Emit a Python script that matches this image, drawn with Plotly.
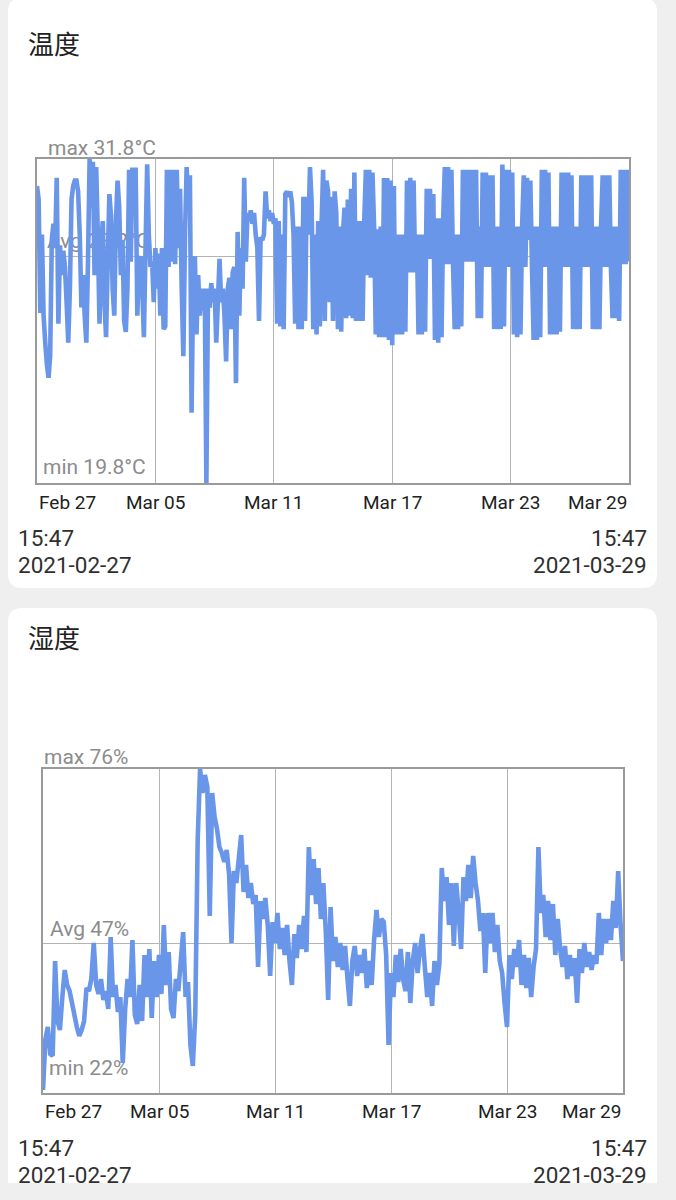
import pandas as pd
import plotly.graph_objects as go

W, H = 676, 1200

START = pd.Timestamp("2021-02-27 15:47")
END = pd.Timestamp("2021-03-29 15:47")

titles = ["温度", "湿度"]
tick_labels = ["Feb 27", "Mar 05", "Mar 11", "Mar 17", "Mar 23", "Mar 29"]
tick_step_days = 6
start_time_text = "15:47"
start_date_text = "2021-02-27"
end_time_text = "15:47"
end_date_text = "2021-03-29"

temp_stats = {"max": 31.8, "avg": 28.2, "min": 19.8}
temp_stat_text = {"max": "max 31.8°C", "avg": "Avg 28.2°C", "min": "min 19.8°C"}
hum_stats = {"max": 76, "avg": 47, "min": 22}
hum_stat_text = {"max": "max 76%", "avg": "Avg 47%", "min": "min 22%"}

# temperature readings, one every 2 hours from start
temp_step_hours = 2
temp_values = [
    30.8, 30.3, 26.1, 29.0, 26.0, 25.0, 24.2, 23.7, 24.5, 28.8,
    29.4, 28.5, 31.1, 25.7, 28.6, 27.5, 28.4, 27.8, 26.5, 25.0,
    27.0, 30.3, 30.8, 31.0, 31.0, 30.6, 29.0, 26.3, 27.5, 26.0,
    25.0, 28.0, 31.8, 30.0, 31.7, 27.5, 31.5, 29.0, 25.7, 28.5,
    29.5, 26.5, 25.2, 28.0, 30.5, 29.7, 27.0, 26.0, 29.5, 31.0,
    30.0, 27.5, 28.8, 25.8, 25.4, 27.0, 31.4, 28.0, 31.4, 31.4,
    31.4, 26.0, 28.0, 28.2, 27.0, 25.2, 28.5, 31.6, 29.0, 27.8,
    28.0, 26.5, 28.5, 27.0, 28.3, 26.0, 28.5, 25.5, 25.6, 31.4,
    27.8, 31.4, 28.0, 31.4, 27.9, 31.4, 28.5, 30.7, 27.0, 24.5,
    29.0, 31.5, 30.0, 31.2, 22.4, 27.5, 28.2, 25.3, 27.5, 26.0,
    27.0, 26.2, 27.0, 19.8, 27.0, 26.3, 27.2, 26.5, 27.0, 25.0,
    26.5, 28.1, 26.5, 27.0, 26.0, 24.3, 27.0, 27.4, 25.5, 27.6,
    27.8, 23.5, 29.1, 26.0, 28.5, 27.0, 31.1, 28.0, 29.8, 29.5,
    29.9, 29.4, 29.8, 29.0, 28.5, 25.8, 28.9, 28.8, 29.0, 30.6,
    29.6, 29.9, 29.5, 29.8, 29.4, 29.6, 25.7, 29.5, 25.6, 29.0,
    25.5, 30.5, 30.6, 30.4, 30.6, 30.2, 29.0, 25.7, 29.3, 25.5,
    29.3, 25.5, 30.4, 25.8, 30.4, 29.0, 31.5, 30.2, 25.5, 29.0,
    25.3, 29.5, 25.6, 29.3, 31.4, 25.8, 31.0, 30.6, 26.5, 30.4,
    25.8, 30.6, 29.8, 25.5, 29.3, 25.4, 29.0, 30.0, 25.9, 30.3,
    26.0, 30.7, 25.9, 31.3, 25.8, 29.5, 25.8, 29.5, 25.8, 29.5,
    31.4, 27.5, 31.4, 27.4, 31.3, 29.3, 25.3, 29.2, 25.2, 29.3,
    25.2, 31.1, 25.2, 31.1, 25.1, 31.0, 24.9, 30.8, 25.3, 29.0,
    25.3, 29.0, 25.3, 29.0, 25.4, 31.0, 27.6, 31.1, 27.6, 31.0,
    27.6, 29.0, 25.3, 29.0, 25.3, 29.0, 25.4, 30.7, 28.1, 30.7,
    28.1, 30.5, 25.1, 29.6, 25.0, 29.6, 25.2, 29.6, 31.5, 27.9,
    31.5, 27.9, 31.4, 27.9, 25.5, 29.0, 25.5, 29.0, 25.6, 31.4,
    28.0, 31.4, 28.0, 31.4, 28.0, 31.4, 28.0, 31.4, 25.9, 29.3,
    25.9, 31.3, 27.8, 31.3, 27.8, 31.2, 27.8, 31.2, 25.5, 29.3,
    25.5, 29.3, 25.5, 31.6, 25.6, 31.4, 27.8, 31.4, 27.8, 31.3,
    25.3, 29.3, 25.2, 29.3, 25.3, 29.3, 31.2, 27.8, 31.1, 28.8,
    31.0, 27.8, 25.1, 29.3, 25.1, 29.3, 25.2, 31.4, 27.8, 31.4,
    27.8, 31.3, 25.3, 29.3, 25.3, 29.3, 25.3, 29.3, 25.4, 31.3,
    27.8, 31.3, 27.8, 31.3, 27.8, 31.2, 25.5, 29.3, 25.5, 29.3,
    25.5, 31.2, 27.8, 31.2, 27.8, 31.2, 27.8, 31.2, 25.5, 29.3,
    25.5, 29.3, 25.5, 29.3, 31.2, 27.8, 31.2, 27.8, 31.2, 27.8,
    25.9, 29.3, 25.9, 29.3, 25.8, 31.4, 27.9, 31.4, 27.9, 31.4, 28.0,
]

# humidity readings, one every 3 hours from start
hum_step_hours = 3
hum_values = [
    22.5, 31.0, 33.0, 28.5, 28.2, 44.0, 34.0, 32.5, 38.0, 42.5,
    40.0, 39.0, 37.0, 35.0, 33.0, 31.5, 32.5, 34.0, 39.5, 39.0,
    41.0, 47.0, 40.0, 38.5, 41.0, 37.5, 39.0, 36.0, 48.0, 38.0,
    40.0, 35.5, 38.0, 27.0, 36.0, 41.0, 38.0, 47.5, 35.0, 33.5,
    40.0, 34.0, 45.0, 38.0, 46.0, 34.5, 44.0, 38.0, 45.0, 38.5,
    50.0, 40.0, 45.5, 36.0, 34.5, 41.0, 39.0, 44.0, 48.8, 38.0,
    40.5, 30.0, 26.5, 35.0, 64.0, 76.0, 72.0, 75.0, 73.0, 51.5,
    72.0, 68.0, 66.0, 63.0, 62.0, 60.5, 62.5, 58.5, 47.0, 59.0,
    57.0, 61.0, 65.0, 55.5, 60.0, 54.5, 57.0, 53.5, 55.0, 43.0,
    54.0, 51.0, 54.5, 50.0, 41.5, 50.5, 47.0, 52.0, 46.0, 49.5,
    45.0, 50.0, 44.0, 40.0, 48.5, 44.5, 50.0, 46.0, 51.5, 45.5,
    63.0, 55.0, 61.0, 53.5, 59.5, 51.0, 57.0, 49.0, 37.5, 53.0,
    44.0, 48.0, 43.0, 47.0, 42.5, 46.5, 41.0, 36.5, 44.0, 46.5,
    41.5, 45.0, 42.0, 46.0, 39.5, 44.0, 40.0, 47.5, 52.5, 48.0,
    51.0, 50.5, 45.0, 30.0, 42.0, 38.0, 45.0, 40.5, 46.0, 41.0,
    39.0, 45.5, 37.0, 44.0, 47.0, 42.0, 46.0, 48.5, 43.0, 38.0,
    42.0, 36.5, 44.0, 40.0, 43.5, 59.5, 54.0, 58.0, 50.0, 57.0,
    46.5, 57.0, 52.0, 46.0, 58.0, 54.0, 60.0, 54.5, 61.5, 57.0,
    54.0, 49.0, 52.0, 42.0, 52.0, 47.0, 52.0, 45.5, 50.0, 44.0,
    42.0, 37.0, 33.0, 45.0, 41.0, 46.0, 43.0, 47.5, 40.0, 45.0,
    39.5, 44.5, 38.0, 43.0, 46.0, 63.0, 52.0, 55.0, 48.0, 54.0,
    47.5, 53.5, 45.0, 51.0, 46.0, 43.0, 46.5, 41.0, 45.0, 41.5,
    44.5, 37.0, 46.0, 42.0, 47.0, 43.0, 45.5, 42.5, 45.0, 43.5,
    52.0, 45.0, 51.0, 47.0, 51.0, 47.5, 54.0, 49.5, 59.0, 50.0, 44.0,
]

temp_times = pd.date_range(START, periods=len(temp_values), freq=f"{temp_step_hours}h")
hum_times = pd.date_range(START, periods=len(hum_values), freq=f"{hum_step_hours}h")
tick_dates = [START + pd.Timedelta(days=tick_step_days * k) for k in range(len(tick_labels))]

# ---------- styling / layout ----------
LINE_COLOR = "#6a96e9"
LABEL_GREY = "#8c8c8c"
GRID = "#b4b4b4"
BORDER = "#9a9a9a"
DARK = "#212121"
FONT = "Roboto"
CJK = "Noto Sans CJK SC"


def px(p):
    return p / W


def py(p):
    return 1 - p / H


def rounded_rect(x0, y0, x1, y1, r):
    rx, ry = r / W, r / H
    X0, X1 = px(x0), px(x1)
    Y0, Y1 = py(y0), py(y1)  # Y0 top (larger), Y1 bottom
    return (f"M {X0+rx},{Y0} L {X1-rx},{Y0} Q {X1},{Y0} {X1},{Y0-ry} "
            f"L {X1},{Y1+ry} Q {X1},{Y1} {X1-rx},{Y1} L {X0+rx},{Y1} "
            f"Q {X0},{Y1} {X0},{Y1+ry} L {X0},{Y0-ry} Q {X0},{Y0} {X0+rx},{Y0} Z")


charts = [
    dict(values=temp_values, times=temp_times, stats=temp_stats, text=temp_stat_text,
         left=37, right=629, top=159, bottom=483, title_y=42, tick_y=502, lw=4.6,
         ts_y=(538, 565), max_lab=(46, 148), avg_lab=(50, 243), min_lab=(46, 469)),
    dict(values=hum_values, times=hum_times, stats=hum_stats, text=hum_stat_text,
         left=43, right=623, top=769, bottom=1093, title_y=636, tick_y=1111, lw=4.6,
         ts_y=(1148, 1175), max_lab=(42, 757), avg_lab=(53, 931), min_lab=(52, 1070)),
]

fig = go.Figure()
annotations = []
layout_axes = {}

for n, c in enumerate(charts, start=1):
    xa = "x" if n == 1 else f"x{n}"
    ya = "y" if n == 1 else f"y{n}"
    xkey = "xaxis" if n == 1 else f"xaxis{n}"
    ykey = "yaxis" if n == 1 else f"yaxis{n}"
    st = c["stats"]
    span = (END - START)
    plot_w = c["right"] - c["left"]
    plot_h = c["bottom"] - c["top"]

    def x_at(p, c=c, span=span, plot_w=plot_w):
        return START + span * ((p - c["left"]) / plot_w)

    def y_at(p, c=c, st=st, plot_h=plot_h):
        return st["max"] - (p - c["top"]) / plot_h * (st["max"] - st["min"])

    # avg / min labels sit under the data line
    for key in ("avg", "min"):
        lx, ly = c[key + "_lab"]
        fig.add_trace(go.Scatter(
            x=[x_at(lx - 3)], y=[y_at(ly)], mode="text", text=[c["text"][key]],
            textposition="middle right", cliponaxis=False, hoverinfo="skip",
            textfont=dict(family=FONT, size=21, color=LABEL_GREY),
            xaxis=xa, yaxis=ya, showlegend=False))

    fig.add_trace(go.Scatter(
        x=c["times"], y=c["values"], mode="lines",
        line=dict(color=LINE_COLOR, width=c["lw"], simplify=False),
        xaxis=xa, yaxis=ya, showlegend=False, hoverinfo="skip"))

    layout_axes[xkey] = dict(
        domain=[px(c["left"]), px(c["right"])], range=[START, END],
        tickvals=tick_dates, showticklabels=False, ticks="", showgrid=True,
        gridcolor=GRID, gridwidth=1, zeroline=False, showline=True, mirror=True,
        linecolor=BORDER, linewidth=2, anchor=ya, fixedrange=True)
    layout_axes[ykey] = dict(
        domain=[py(c["bottom"]), py(c["top"])], range=[st["min"], st["max"]],
        tickvals=[st["avg"]], showticklabels=False, ticks="", showgrid=True,
        gridcolor=GRID, gridwidth=1, zeroline=False, showline=True, mirror=True,
        linecolor=BORDER, linewidth=2, anchor=xa, fixedrange=True)

    # max label above the plot
    mx, my = c["max_lab"]
    annotations.append(dict(x=px(mx), y=py(my), xref="paper", yref="paper",
                            xanchor="left", yanchor="middle", showarrow=False,
                            text=c["text"]["max"],
                            font=dict(family=FONT, size=21, color=LABEL_GREY)))
    # title
    annotations.append(dict(x=px(26), y=py(c["title_y"]), xref="paper", yref="paper",
                            xanchor="left", yanchor="middle", showarrow=False,
                            text=titles[n - 1],
                            font=dict(family=CJK, size=26, color=DARK)))
    # tick labels
    for k, (d, lab) in enumerate(zip(tick_dates, tick_labels)):
        anchor = "left" if k == 0 else ("right" if k == len(tick_labels) - 1 else "center")
        annotations.append(dict(x=d, y=py(c["tick_y"]), xref=xa, yref="paper",
                                xanchor=anchor, yanchor="middle", showarrow=False,
                                text=lab, font=dict(family=FONT, size=19, color=DARK)))
    # start / end time stamps
    for txt, yy in ((start_time_text, c["ts_y"][0]), (start_date_text, c["ts_y"][1])):
        annotations.append(dict(x=px(16), y=py(yy), xref="paper", yref="paper",
                                xanchor="left", yanchor="middle", showarrow=False,
                                text=txt, font=dict(family=FONT, size=22.5, color="#303030")))
    for txt, yy in ((end_time_text, c["ts_y"][0]), (end_date_text, c["ts_y"][1])):
        annotations.append(dict(x=px(649), y=py(yy), xref="paper", yref="paper",
                                xanchor="right", yanchor="middle", showarrow=False,
                                text=txt, font=dict(family=FONT, size=22.5, color="#303030")))

shapes = [
    dict(type="path", path=rounded_rect(8, -2, 657, 588, 14), xref="paper", yref="paper",
         fillcolor="white", line=dict(width=0), layer="below"),
    dict(type="path", path=rounded_rect(8, 608, 657, 1215, 14), xref="paper", yref="paper",
         fillcolor="white", line=dict(width=0), layer="below"),
    dict(type="rect", x0=0, x1=1, y0=py(1200), y1=py(1183), xref="paper", yref="paper",
         fillcolor="#efefef", line=dict(width=0), layer="below"),
]

fig.update_layout(
    width=W, height=H, autosize=False,
    margin=dict(l=0, r=0, t=0, b=0, pad=0),
    paper_bgcolor="#efefef", plot_bgcolor="rgba(0,0,0,0)",
    showlegend=False, annotations=annotations, shapes=shapes,
    **layout_axes,
)

fig.write_html("out.html")
